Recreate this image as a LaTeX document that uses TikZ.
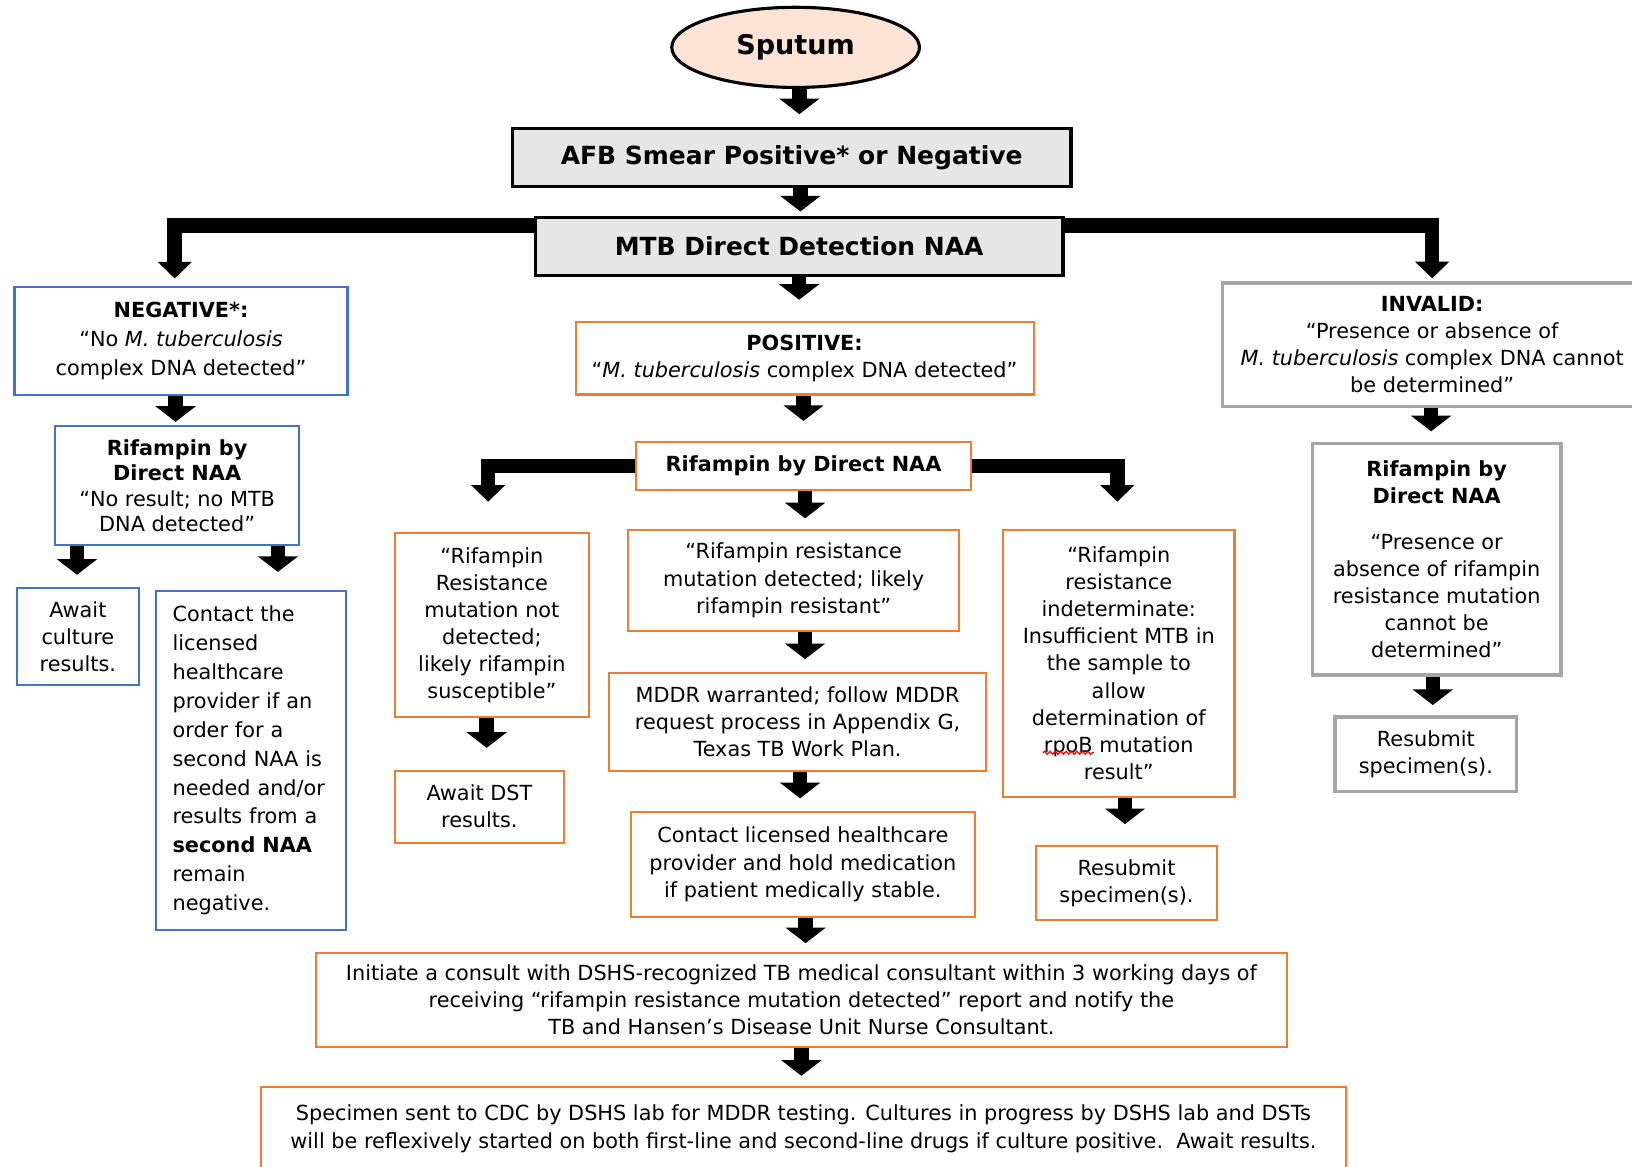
\documentclass[tikz,border=0pt]{standalone}
\usepackage{fontspec}
\setmainfont{DejaVu Sans}[BoldFont={DejaVu Sans Bold},ItalicFont={DejaVu Sans Oblique},BoldItalicFont={DejaVu Sans Bold Oblique}]
\usetikzlibrary{arrows.meta,shapes.geometric,calc,decorations.pathmorphing}
\definecolor{bluec}{RGB}{68,114,196}
\definecolor{orc}{RGB}{237,125,49}
\definecolor{grc}{RGB}{165,165,165}
\definecolor{lgray}{RGB}{230,230,230}
\definecolor{peach}{RGB}{251,228,213}
\begin{document}
\begin{tikzpicture}[x=0.5pt,y=-0.5pt,
  box/.style={draw, rectangle, inner sep=0pt, align=center, text=black,
    font=\fontsize{10}{13}\selectfont},
  bbox/.style={box, draw=bluec, line width=1pt},
  obox/.style={box, draw=orc, line width=1pt},
  gbox/.style={box, draw=grc, line width=1.6pt},
  kbox/.style={box, draw=black, fill=lgray, line width=1.6pt,
    font=\bfseries\fontsize{12}{14}\selectfont},
  arr/.style={line width=7pt, -{Triangle[width=19pt,length=7.5pt]}},
  elb/.style={line width=7pt, line join=miter, -{Triangle[width=16pt,length=8pt]}},
  squig/.style={draw=red, line width=0.6pt, decorate,
    decoration={snake, amplitude=0.7pt, segment length=2.6pt}}
]
\fill[white] (0,0) rectangle (1568,1121);
\useasboundingbox (0,0) rectangle (1568,1121);
\clip (0,0) rectangle (1568,1121);

% top
\node[ellipse, draw=black, fill=peach, line width=1.5pt, minimum width=119pt,
  minimum height=38.5pt, inner sep=0pt, font=\bfseries\fontsize{13}{15}\selectfont]
  (sputum) at (764.4,45.5) {Sputum};
\node[kbox, minimum width=268.4pt, minimum height=28pt] (afb) at (760.7,151.3)
  {AFB Smear Positive* or Negative};
\node[kbox, minimum width=253.5pt, minimum height=27.9pt] (mtb) at (767.8,236.7)
  {MTB Direct Detection NAA};

% negative branch
\node[bbox, minimum width=160pt, minimum height=51.75pt,
  font=\fontsize{10}{14}\selectfont] (neg) at (173.9,327.8)
  {\textbf{NEGATIVE*:}\\“No \textit{M. tuberculosis}\\complex DNA detected”};
\node[bbox, minimum width=117.4pt, minimum height=57.2pt,
  font=\fontsize{10}{12.25}\selectfont] (rifl) at (170.2,466.5)
  {\textbf{Rifampin by}\\\textbf{Direct NAA}\\“No result; no MTB\\DNA detected”};
\node[bbox, minimum width=58.8pt, minimum height=46.5pt] (awc) at (74.8,611.7)
  {Await\\culture\\results.};
\node[bbox, minimum width=91.25pt, minimum height=163pt, text width=75pt,
  inner xsep=8.1pt, align=left, font=\fontsize{10}{13.9}\selectfont] (cont) at (240.8,730.5)
  {Contact the\\licensed\\healthcare\\provider if an\\order for a\\second NAA is\\needed and/or\\results from a\\\textbf{second NAA}\\remain\\negative.};

% positive branch
\node[obox, minimum width=220pt, minimum height=35pt] (pos) at (773,344)
  {\textbf{POSITIVE:}\\“\textit{M. tuberculosis} complex DNA detected”};
\node[obox, minimum width=160.9pt, minimum height=23.2pt] (rifc) at (772,447.6)
  {\textbf{Rifampin by Direct NAA}};
\node[obox, minimum width=93pt, minimum height=88.7pt] (notd) at (472.6,600.5)
  {“Rifampin\\Resistance\\mutation not\\detected;\\likely rifampin\\susceptible”};
\node[obox, minimum width=81.1pt, minimum height=34.5pt] (adst) at (460.6,775)
  {Await DST\\results.};
\node[obox, minimum width=158.9pt, minimum height=48.5pt] (rres) at (762.5,557.5)
  {“Rifampin resistance\\mutation detected; likely\\rifampin resistant”};
\node[obox, minimum width=181pt, minimum height=47.4pt] (mddr) at (766.3,693.7)
  {MDDR warranted; follow MDDR\\request process in Appendix G,\\Texas TB Work Plan.};
\node[obox, minimum width=165.4pt, minimum height=50.4pt] (cont2) at (771.4,830.4)
  {Contact licensed healthcare\\provider and hold medication\\if patient medically stable.};
\node[obox, minimum width=466.6pt, minimum height=45.4pt] (init) at (770,960.6)
  {Initiate a consult with DSHS-recognized TB medical consultant within 3 working days of\\receiving “rifampin resistance mutation detected” report and notify the\\TB and Hansen’s Disease Unit Nurse Consultant.};
\node[obox, minimum width=521.4pt, minimum height=39.7pt,
  font=\fontsize{10}{13.5}\selectfont] (spec) at (771.9,1084.3)
  {Specimen sent to CDC by DSHS lab for MDDR testing. Cultures in progress by DSHS lab and DSTs\\will be reflexively started on both first-line and second-line drugs if culture positive.\ \ Await results.};
\node[obox, minimum width=111.2pt, minimum height=128.2pt] (ind) at (1074.9,637.2)
  {“Rifampin\\resistance\\indeterminate:\\Insufficient MTB in\\the sample to\\allow\\determination of\\rpoB mutation\\result”};
\node[obox, minimum width=87.3pt, minimum height=35.6pt] (res1) at (1082.3,848.4)
  {Resubmit\\specimen(s).};

% invalid branch
\node[gbox, minimum width=201.5pt, minimum height=59.4pt] (inv) at (1376,331.4)
  {\textbf{INVALID:}\\“Presence or absence of\\\textit{M. tuberculosis} complex DNA cannot\\be determined”};
\node[gbox, minimum width=119.5pt, minimum height=111.3pt] (rifg) at (1380.3,537.3)
  {\textbf{Rifampin by}\\\textbf{Direct NAA}\\[9pt]“Presence or\\absence of rifampin\\resistance mutation\\cannot be\\determined”};
\node[gbox, minimum width=87.2pt, minimum height=35.8pt] (res2) at (1369.9,724.8)
  {Resubmit\\specimen(s).};

% spell-check underline
\draw[squig] ($(ind.center)+(-73,86)$) -- ($(ind.center)+(-24,86)$);

% connectors
\draw[arr, shorten >=6pt] ([xshift=1.8pt]sputum.south) -- ([xshift=1.8pt]sputum.south |- afb.north);
\draw[arr, shorten >=2pt] ([xshift=4.15pt]afb.south) -- ([xshift=4.15pt]afb.south |- mtb.north);
\draw[arr, shorten >=10pt] (mtb.south) -- (mtb.south |- pos.north);
\draw[arr, shorten >=9.5pt] ([xshift=-0.5pt]pos.south) -- ([xshift=-0.5pt]pos.south |- rifc.north);

\coordinate (mtbL) at ([yshift=-4.6pt]mtb.north west);
\coordinate (mtbR) at ([yshift=-4.6pt]mtb.north east);
\draw[elb, shorten >=3.75pt] (mtbL) -| ([xshift=-3pt]neg.north);
\draw[elb, shorten >=1.5pt] (mtbR) -| (inv.north);

\draw[arr, shorten >=1.5pt] ([xshift=-2.6pt]neg.south) -- ([xshift=-2.6pt]neg.south |- rifl.north);
\draw[arr, shorten >=6pt] ([xshift=-48.1pt]rifl.south) -- ([xshift=-48.1pt]rifl.south |- awc.north);
\draw[arr, shorten >=8.5pt] ([xshift=48.4pt]rifl.south) -- ([xshift=48.4pt]rifl.south |- cont.north);

\draw[arr, shorten >=5pt] ([xshift=0.75pt]rifc.south) -- ([xshift=0.75pt]rifc.south |- rres.north);
\draw[elb, shorten >=14.4pt] (rifc.west) -| ([xshift=-1.8pt]notd.north);
\draw[elb, shorten >=13pt] (rifc.east) -| ([xshift=-0.7pt]ind.north);
\draw[arr, shorten >=10.5pt] ([xshift=-2.5pt]notd.south) -- ([xshift=-2.5pt]notd.south |- adst.north);
\draw[arr, shorten >=6pt] ([xshift=5.5pt]rres.south) -- ([xshift=5.5pt]rres.south |- mddr.north);
\draw[arr, shorten >=6pt] ([xshift=1.2pt]mddr.south) -- ([xshift=1.2pt]mddr.south |- cont2.north);
\draw[arr, shorten >=4pt] ([xshift=1.3pt]cont2.south) -- ([xshift=1.3pt]cont2.south |- init.north);
\draw[arr, shorten >=5pt] (init.south) -- (init.south |- spec.north);
\draw[arr, shorten >=10pt] ([xshift=3pt]ind.south) -- ([xshift=3pt]ind.south |- res1.north);
\draw[arr, shorten >=5pt] ([xshift=-0.5pt]inv.south) -- ([xshift=-0.5pt]inv.south |- rifg.north);
\draw[arr, shorten >=5pt] ([xshift=-1.85pt]rifg.south) -- ([xshift=-1.85pt]rifg.south |- res2.north);
\end{tikzpicture}
\end{document}
